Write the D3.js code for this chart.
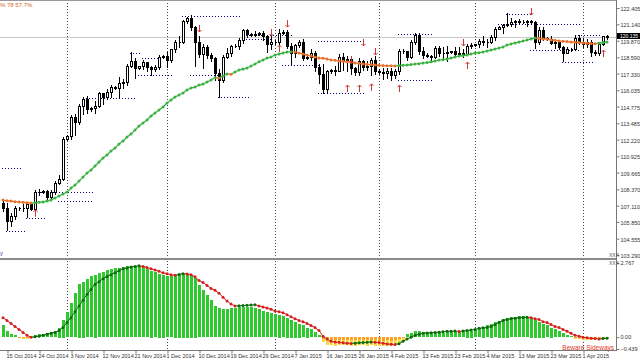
<!DOCTYPE html>
<html>
<head>
<meta charset="utf-8">
<script src="https://cdn.jsdelivr.net/npm/d3@7"></script>
<style>
  body { margin: 0; background: #fff; }
  svg { display: block; font-family: "Liberation Sans", Arial, sans-serif; }
  .axis text { font-size: 5.5px; fill: #333; }
  .axis path, .axis line { stroke: #777; }
</style>
</head>
<body>
<svg id="chart" width="640" height="360"></svg>
<script>
/* -------------------------------------------------------------------------- */
// daily bars, open / high / low / close
const ohlc = [
  [107.30,107.50,106.70,106.95],[106.95,107.35,105.20,105.95],[105.95,106.55,105.55,106.30],[106.30,107.10,106.10,106.90],
  [106.90,107.00,106.75,106.95],[106.95,107.25,106.70,106.95],[106.95,107.30,106.20,107.20],[107.20,107.35,106.75,106.85],
  [106.85,108.35,106.80,108.20],[108.20,108.40,107.90,108.15],[108.15,108.35,108.05,108.25],[108.25,108.30,107.65,107.80],
  [107.80,108.30,107.70,108.15],[108.15,109.00,108.00,108.90],[108.90,109.45,108.75,109.20],[109.20,112.45,109.10,112.30],
  [112.30,112.60,112.20,112.50],[112.50,114.10,112.30,113.95],[113.95,114.20,112.60,113.60],[113.60,115.00,113.40,114.80],
  [114.80,115.55,114.20,115.35],[115.35,115.60,114.30,114.60],[114.60,114.75,114.40,114.65],[114.65,115.20,114.30,114.85],
  [114.85,115.90,114.75,115.80],[115.80,115.85,115.00,115.55],[115.55,116.15,115.40,115.90],[115.90,116.45,115.50,116.30],
  [116.30,116.40,116.10,116.20],[116.20,117.05,115.45,116.60],[116.60,116.90,116.25,116.65],[116.65,118.05,116.45,117.90],
  [117.90,118.98,117.85,118.30],[118.30,118.55,116.95,117.75],[117.75,117.95,117.70,117.90],[117.90,118.40,117.70,118.20],
  [118.20,118.25,117.55,117.85],[117.85,117.95,117.25,117.70],[117.70,118.00,117.50,117.85],[117.85,118.75,117.70,118.65],
  [118.65,118.80,118.55,118.70],[118.70,119.00,117.85,118.40],[118.40,119.25,118.25,119.20],[119.20,119.90,119.00,119.80],
  [119.80,120.25,119.40,119.80],[119.80,121.45,119.70,121.40],[121.40,121.70,121.25,121.60],[121.60,121.85,120.70,120.95],
  [120.95,121.05,117.90,119.75],[119.75,120.20,118.60,118.85],[118.85,119.60,117.80,119.40],[119.40,119.55,118.50,118.75],
  [118.75,118.90,118.30,118.50],[118.50,118.60,116.85,117.40],[117.40,117.65,115.55,116.85],[116.85,118.80,116.70,118.65],
  [118.65,119.30,118.50,118.95],[118.95,119.55,118.70,119.45],[119.45,119.60,119.35,119.50],[119.50,120.05,119.20,119.95],
  [119.95,120.80,119.70,120.70],[120.70,120.75,120.15,120.40],[120.40,120.50,120.25,120.30],[120.30,120.60,120.20,120.40],
  [120.40,120.55,120.30,120.50],[120.50,120.60,119.90,120.25],[120.25,120.30,119.00,119.60],[119.60,120.40,119.20,119.75],
  [119.75,119.95,119.60,119.80],[119.80,120.75,119.60,120.45],[120.45,120.70,120.40,120.55],[120.55,120.70,119.30,119.45],
  [119.45,119.70,118.05,118.90],[118.90,119.65,118.60,119.55],[119.55,119.95,119.35,119.80],[119.80,120.00,118.40,118.55],
  [118.55,118.70,118.45,118.60],[118.60,119.25,118.40,118.95],[118.95,119.05,117.50,117.85],[117.85,118.10,116.60,117.30],
  [117.30,118.05,115.85,116.15],[116.15,117.60,115.85,117.50],[117.50,117.70,117.40,117.60],[117.60,117.90,117.20,117.55],
  [117.55,118.85,117.50,118.60],[118.60,118.90,117.60,118.40],[118.40,118.70,117.50,118.45],[118.45,118.55,117.30,117.75],
  [117.75,117.85,117.25,117.45],[117.45,118.50,117.25,118.30],[118.30,118.40,117.60,117.85],[117.85,118.30,117.60,117.95],
  [117.95,118.55,117.25,118.35],[118.35,118.70,117.30,117.50],[117.50,117.65,117.30,117.45],[117.45,117.80,116.90,117.35],
  [117.35,117.80,117.00,117.55],[117.55,117.80,116.85,117.20],[117.20,117.70,116.95,117.50],[117.50,119.20,117.30,119.10],
  [119.10,119.25,118.90,119.05],[119.05,119.10,118.40,118.60],[118.60,119.90,118.50,119.80],[119.80,120.45,119.60,120.35],
  [120.35,120.45,118.85,119.05],[119.05,119.40,118.50,118.75],[118.75,118.90,118.60,118.70],[118.70,118.80,118.30,118.60],
  [118.60,119.45,118.55,119.30],[119.30,119.45,118.70,118.90],[118.90,119.35,118.55,118.95],[118.95,119.45,118.30,119.00],
  [119.00,119.10,118.90,119.05],[119.05,119.40,118.75,118.85],[118.85,119.40,118.70,118.95],[118.95,119.20,118.65,118.85],
  [118.85,119.60,118.80,119.45],[119.45,119.70,119.30,119.55],[119.55,119.65,119.45,119.60],[119.60,120.00,119.40,119.85],
  [119.85,120.25,119.55,119.75],[119.75,120.00,119.40,119.80],[119.80,120.30,119.70,120.15],[120.15,120.95,119.90,120.80],
  [120.80,121.00,120.75,120.95],[120.95,121.15,120.50,121.10],[121.10,122.05,121.00,121.15],[121.15,121.60,121.00,121.35],
  [121.35,121.50,120.90,121.40],[121.40,121.55,121.20,121.35],[121.35,121.45,121.25,121.30],[121.30,121.45,121.00,121.40],
  [121.40,121.45,121.20,121.35],[121.35,121.40,119.30,119.80],[119.80,120.90,119.65,120.70],[120.70,120.95,119.90,120.05],
  [120.05,120.15,119.95,120.00],[120.00,120.20,119.60,119.70],[119.70,119.85,119.30,119.75],[119.75,119.95,119.20,119.40],
  [119.40,119.45,118.30,118.95],[118.95,119.40,118.90,119.20],[119.20,119.30,119.10,119.20],[119.20,120.30,119.15,120.05],
  [120.05,120.35,119.65,119.80],[119.80,120.05,119.40,119.60],[119.60,120.00,119.40,119.80],[119.80,119.90,118.70,119.00],
  [119.00,119.15,118.80,118.95],[118.95,119.80,118.75,119.65],[119.65,120.25,119.55,120.20],[120.20,120.30,120.00,120.135]
];

// trend line drawn over the candles
const trendLine = [
  107.54,107.49,107.46,107.42,107.39,107.37,107.34,107.31,107.33,107.37,107.40,107.46,107.54,107.70,107.85,108.01,
  108.16,108.47,108.70,109.01,109.32,109.63,109.87,110.18,110.49,110.80,111.03,111.34,111.57,111.88,112.11,112.42,
  112.65,112.96,113.27,113.50,113.74,114.05,114.28,114.51,114.74,115.05,115.28,115.52,115.67,115.83,116.06,116.21,
  116.29,116.44,116.52,116.68,116.83,117.00,116.98,117.14,117.30,117.28,117.45,117.61,117.68,117.76,117.92,118.07,
  118.24,118.38,118.53,118.61,118.77,118.84,118.92,119.00,119.02,119.00,118.92,118.84,118.77,118.69,118.61,118.53,
  118.52,118.46,118.38,118.36,118.30,118.28,118.24,118.21,118.15,118.12,118.07,118.05,118.03,117.99,117.97,117.95,
  117.94,117.93,117.92,117.95,117.97,117.99,118.03,118.07,118.10,118.15,118.18,118.24,118.30,118.38,118.40,118.46,
  118.53,118.61,118.69,118.72,118.77,118.84,118.92,118.95,119.00,119.08,119.15,119.23,119.31,119.39,119.54,119.62,
  119.70,119.77,119.85,119.93,120.01,120.08,120.06,120.01,119.99,119.93,119.91,119.85,119.83,119.81,119.77,119.75,
  119.73,119.70,119.68,119.66,119.64,119.68,119.73,119.77
];

// dotted support / resistance levels: [first bar, last bar, price]
const levels = [
  [0, 4, 110.02], [1, 5, 105.15], [6, 10, 106.15], [9, 22, 108.20], [14, 22, 107.45],
  [21, 33, 115.45], [32, 34, 118.95], [35, 39, 118.55], [34, 42, 117.20], [45, 59, 121.80],
  [47, 54, 117.20], [54, 61, 115.55], [61, 72, 120.30], [61, 67, 120.00], [70, 79, 118.00],
  [79, 90, 119.85], [79, 90, 115.85], [99, 107, 120.40], [99, 107, 116.85], [126, 132, 121.95],
  [124, 144, 121.20], [132, 144, 119.15], [140, 147, 118.25], [144, 149, 120.35]
];

// signal arrows: [bar, price]
const arrowsUp = [[8, 106.55], [69, 119.30], [86, 116.21], [89, 116.21], [92, 116.30], [99, 116.21], [116, 117.99], [150, 118.92]];
const arrowsDown = [[49, 120.78], [67, 120.47], [71, 121.16], [87, 118.38], [90, 119.70], [93, 119.00], [115, 119.70], [132, 122.10]];

// lower window: histogram and its signal line
const histogram = [
  0.44,0.22,0.11,0.07,-0.04,-0.06,-0.07,-0.05,0.07,0.11,0.11,0.15,0.18,0.22,0.36,0.66,
  0.95,1.27,1.64,2.00,2.07,2.18,2.29,2.33,2.40,2.44,2.51,2.55,2.58,2.58,2.62,2.66,
  2.66,2.66,2.66,2.62,2.55,2.48,2.44,2.37,2.33,2.29,2.29,2.33,2.37,2.37,2.37,2.33,
  2.22,1.93,1.75,1.57,1.38,1.16,1.09,1.06,1.06,1.09,1.09,1.13,1.13,1.13,1.13,1.09,
  1.06,0.98,0.95,0.91,0.87,0.84,0.80,0.73,0.66,0.58,0.51,0.44,0.36,0.29,0.18,0.07,
  -0.20,-0.28,-0.30,-0.32,-0.30,-0.30,-0.31,-0.32,-0.32,-0.30,-0.31,-0.32,-0.30,-0.32,-0.33,-0.33,
  -0.32,-0.33,-0.30,-0.22,-0.10,0.11,0.15,0.22,0.22,0.18,0.15,0.15,0.18,0.18,0.15,0.18,
  0.18,0.18,0.18,0.22,0.25,0.25,0.29,0.33,0.36,0.44,0.51,0.55,0.62,0.69,0.73,0.76,
  0.76,0.80,0.80,0.76,0.73,0.66,0.58,0.51,0.44,0.36,0.29,0.22,0.15,0.07,0.04,-0.06,
  -0.08,-0.10,-0.10,-0.10,-0.08,-0.05,-0.04,-0.03
];
const signal = [
  0.73,0.62,0.51,0.40,0.29,0.18,0.07,0.00,0.02,0.04,0.07,0.11,0.15,0.18,0.25,0.36,
  0.55,0.73,0.95,1.16,1.38,1.60,1.78,1.97,2.07,2.18,2.26,2.33,2.40,2.48,2.55,2.58,
  2.62,2.64,2.66,2.64,2.60,2.55,2.51,2.46,2.40,2.37,2.33,2.31,2.34,2.37,2.36,2.33,
  2.25,2.11,2.04,1.93,1.82,1.75,1.64,1.49,1.35,1.24,1.16,1.17,1.18,1.19,1.20,1.21,
  1.16,1.13,1.09,1.04,0.98,0.95,0.91,0.84,0.76,0.69,0.62,0.58,0.51,0.44,0.36,0.25,
  0.04,-0.07,-0.15,-0.18,-0.19,-0.21,-0.22,-0.23,-0.22,-0.21,-0.20,-0.19,-0.18,-0.19,-0.20,-0.22,
  -0.25,-0.26,-0.27,-0.24,-0.15,-0.07,0.00,0.07,0.11,0.15,0.16,0.17,0.18,0.19,0.20,0.22,
  0.22,0.23,0.21,0.23,0.25,0.27,0.29,0.33,0.35,0.36,0.40,0.47,0.55,0.62,0.66,0.69,
  0.71,0.73,0.735,0.74,0.73,0.69,0.66,0.58,0.55,0.47,0.40,0.36,0.29,0.22,0.15,0.07,
  0.04,0.00,-0.02,-0.04,-0.05,-0.07,-0.05,-0.04
];

// axis labels
const priceTicks = [122.405, 121.140, 119.870, 118.590, 117.330, 116.035, 114.775, 113.485,
                    112.220, 110.925, 109.665, 108.370, 107.110, 105.850, 104.555, 103.290];
const subTicks = [2.767, 0.00, -0.439];
const dateTicks = ['15 Oct 2014', '24 Oct 2014', '3 Nov 2014', '12 Nov 2014', '21 Nov 2014', '1 Dec 2014',
                   '10 Dec 2014', '19 Dec 2014', '29 Dec 2014', '7 Jan 2015', '16 Jan 2015', '26 Jan 2015',
                   '4 Feb 2015', '13 Feb 2015', '23 Feb 2015', '4 Mar 2015', '13 Mar 2015', '23 Mar 2015', '1 Apr 2015'];
const bidPrice = 120.135;
const headerText = '% 78 57.7%';
const warningText = 'Beware Sideways';

/* -------------------------------------------------------------------------- */
// one bar per day, the broker has a short sunday session but no saturday
const dates = [];
for (let d = new Date(2014, 9, 14); dates.length < ohlc.length; d.setDate(d.getDate() + 1)) {
  if (d.getDay() != 6) dates.push(new Date(d));
}
const fmtDay = d3.timeFormat('%-d %b %Y');

const W = 616;            // right edge of plot area
const mainBottom = 258;
const subTop = 260, subBottom = 350;

const svg = d3.select('#chart');

const x = d3.scaleLinear().domain([0, ohlc.length - 1]).range([3, 3 + 4 * (ohlc.length - 1)]);
const y = d3.scaleLinear().domain([103.290, 122.405]).range([255, 8]);
const ys = d3.scaleLinear().domain([-0.439, 2.767]).range([349, 263]);
const px = v => Math.round(v) + 0.5;

svg.append('clipPath').attr('id', 'clipMain')
  .append('rect').attr('x', 0).attr('y', 0).attr('width', W).attr('height', mainBottom);
svg.append('clipPath').attr('id', 'clipSub')
  .append('rect').attr('x', 0).attr('y', subTop).attr('width', W).attr('height', subBottom - subTop);

// month separators
const monthStarts = dates.map((d, i) => i).filter(i => i > 0 && dates[i].getMonth() != dates[i - 1].getMonth());
svg.append('g').selectAll('line').data(monthStarts).join('line')
  .attr('x1', i => px(x(i))).attr('x2', i => px(x(i)))
  .attr('y1', 0).attr('y2', subBottom)
  .attr('stroke', '#444').attr('stroke-dasharray', '1,2');

// bid line
svg.append('line').attr('x1', 0).attr('x2', W).attr('y1', px(y(bidPrice))).attr('y2', px(y(bidPrice)))
  .attr('stroke', '#c8c8c8');

/* ---------------------------- main window -------------------------------- */
const main = svg.append('g').attr('clip-path', 'url(#clipMain)');

main.append('g').selectAll('line').data(levels).join('line')
  .attr('x1', d => x(d[0]) - 1).attr('x2', d => x(d[1]) + 2)
  .attr('y1', d => px(y(d[2]))).attr('y2', d => px(y(d[2])))
  .attr('stroke', '#000080').attr('stroke-dasharray', '1,2');

const bars = main.append('g').attr('shape-rendering', 'crispEdges')
  .selectAll('g').data(ohlc).join('g');
bars.append('line')
  .attr('x1', (d, i) => x(i) + 0.5).attr('x2', (d, i) => x(i) + 0.5)
  .attr('y1', d => Math.round(y(d[1]))).attr('y2', d => Math.round(y(d[2])) + 1)
  .attr('stroke', '#000');
bars.append('path')
  .attr('d', (d, i) => {
    let top = Math.round(y(Math.max(d[0], d[3]))) + 0.5;
    let bot = Math.round(y(Math.min(d[0], d[3]))) + 0.5;
    let x0 = x(i) - 0.5, x1 = x(i) + 1.5;
    return `M${x0},${top}H${x1}V${bot}H${x0}Z`;
  })
  .attr('fill', d => d[3] >= d[0] ? '#fff' : '#000')
  .attr('stroke', '#000');

// trend line, green while rising and orange while falling
const trendCol = trendLine.map((v, i) => i == 0 ? '#e8702a' : (v >= trendLine[i - 1] ? '#3cb043' : '#e8702a'));
main.append('g').selectAll('line').data(trendLine.slice(1)).join('line')
  .attr('x1', (d, i) => x(i)).attr('x2', (d, i) => x(i + 1))
  .attr('y1', (d, i) => y(trendLine[i])).attr('y2', d => y(d))
  .attr('stroke', (d, i) => trendCol[i + 1]).attr('stroke-width', 1.2);
main.append('g').selectAll('circle').data(trendLine).join('circle')
  .attr('cx', (d, i) => x(i)).attr('cy', d => y(d)).attr('r', 1.5)
  .attr('fill', (d, i) => trendCol[i]);

// arrows
const arrowCol = '#d03838';
main.append('g').selectAll('path').data(arrowsDown).join('path')
  .attr('d', d => {
    let cx = x(d[0]) + 0.5, cy = y(d[1]);
    return `M${cx},${cy - 4}V${cy + 3}M${cx - 2},${cy + 1}L${cx},${cy + 3}L${cx + 2},${cy + 1}`;
  })
  .attr('stroke', arrowCol).attr('fill', 'none');
main.append('g').selectAll('path').data(arrowsUp).join('path')
  .attr('d', d => {
    let cx = x(d[0]) + 0.5, cy = y(d[1]);
    return `M${cx},${cy + 4}V${cy - 3}M${cx - 2},${cy - 1}L${cx},${cy - 3}L${cx + 2},${cy - 1}`;
  })
  .attr('stroke', arrowCol).attr('fill', 'none');

svg.append('text').attr('x', 0).attr('y', 7).attr('font-size', 6).attr('fill', '#d2691e').text(headerText);
svg.append('text').attr('x', 0).attr('y', 255).attr('font-size', 6).attr('fill', '#4040a0').text('y');

/* ---------------------------- lower window ------------------------------- */
const sub = svg.append('g').attr('clip-path', 'url(#clipSub)');
const hbars = sub.append('g').attr('shape-rendering', 'crispEdges');
hbars.selectAll('rect.h').data(histogram).join('rect').attr('class', 'h')
  .attr('x', (d, i) => x(i) - 1).attr('width', 3)
  .attr('y', d => Math.round(Math.min(ys(0), ys(d))))
  .attr('height', d => Math.max(1, Math.round(Math.abs(ys(d) - ys(0)))))
  .attr('fill', d => d >= 0 ? '#2fc82f' : '#ffd83a');
hbars.selectAll('rect.o').data(histogram.map((d, i) => [i, d]).filter(d => d[1] < 0)).join('rect').attr('class', 'o')
  .attr('x', d => x(d[0]) - 1).attr('width', 3)
  .attr('y', Math.round(ys(0)))
  .attr('height', d => Math.max(1, Math.round(Math.abs(ys(d[1] * 0.4) - ys(0)))))
  .attr('fill', '#ffa01e');

const sigCol = signal.map((v, i) => i == 0 ? '#d42020' : (v >= signal[i - 1] ? '#0b6b0b' : '#d42020'));
sub.append('g').selectAll('line').data(signal.slice(1)).join('line')
  .attr('x1', (d, i) => x(i)).attr('x2', (d, i) => x(i + 1))
  .attr('y1', (d, i) => ys(signal[i])).attr('y2', d => ys(d))
  .attr('stroke', (d, i) => sigCol[i + 1]);
sub.append('g').selectAll('circle').data(signal).join('circle')
  .attr('cx', (d, i) => x(i)).attr('cy', d => ys(d)).attr('r', 1.5)
  .attr('fill', (d, i) => sigCol[i]);

svg.append('text').attr('x', 614).attr('y', 350).attr('text-anchor', 'end').attr('font-size', 6.5)
  .attr('fill', '#e03a2a').text(warningText);

/* ------------------------------ frame / axes ------------------------------ */
svg.append('line').attr('x1', 0).attr('x2', W).attr('y1', 0.5).attr('y2', 0.5).attr('stroke', '#999');
svg.append('rect').attr('x', 0).attr('y', mainBottom).attr('width', W).attr('height', 2).attr('fill', '#8a8a8a');
svg.append('line').attr('x1', 0).attr('x2', W).attr('y1', subBottom + 0.5).attr('y2', subBottom + 0.5).attr('stroke', '#777');

const priceAxis = d3.axisRight(y).tickValues(priceTicks).tickFormat(d3.format('.3f')).tickSize(3).tickPadding(1);
svg.append('g').attr('class', 'axis').attr('transform', `translate(${W + 0.5},0)`).call(priceAxis)
  .call(g => g.select('.domain').remove())
  .call(g => g.selectAll('text').attr('dy', '0.45em'));

const subAxis = d3.axisRight(ys).tickValues(subTicks).tickFormat(d => d == 0 ? '0.00' : d3.format('.3f')(d))
  .tickSize(3).tickPadding(1);
svg.append('g').attr('class', 'axis').attr('transform', `translate(${W + 0.5},0)`).call(subAxis)
  .call(g => g.select('.domain').remove());

svg.append('line').attr('x1', W + 0.5).attr('x2', W + 0.5).attr('y1', 0).attr('y2', subBottom + 1).attr('stroke', '#777');

// bid label
const bidY = Math.round(y(bidPrice));
svg.append('rect').attr('x', W + 1).attr('y', bidY - 4).attr('width', 23).attr('height', 6).attr('fill', '#000');
svg.append('text').attr('x', W + 4).attr('y', bidY + 1).attr('font-size', 5).attr('fill', '#fff')
  .text(d3.format('.3f')(bidPrice));

// window marks
svg.append('text').attr('x', 609).attr('y', 257).attr('font-size', 5).attr('fill', '#555').text('XXX');
svg.append('text').attr('x', 609).attr('y', 265).attr('font-size', 5).attr('fill', '#555').text('XXX');

// date axis
const tickIdx = dateTicks.map(t => dates.findIndex(d => fmtDay(d) == t));
const dateAxis = d3.axisBottom(x).tickValues(tickIdx).tickFormat(i => fmtDay(dates[i])).tickSize(3).tickPadding(1);
svg.append('g').attr('class', 'axis').attr('transform', `translate(0.5,${subBottom + 0.5})`).call(dateAxis)
  .call(g => g.select('.domain').remove())
  .call(g => g.selectAll('text').attr('text-anchor', 'start').attr('dx', -1.5));
</script>
</body>
</html>
